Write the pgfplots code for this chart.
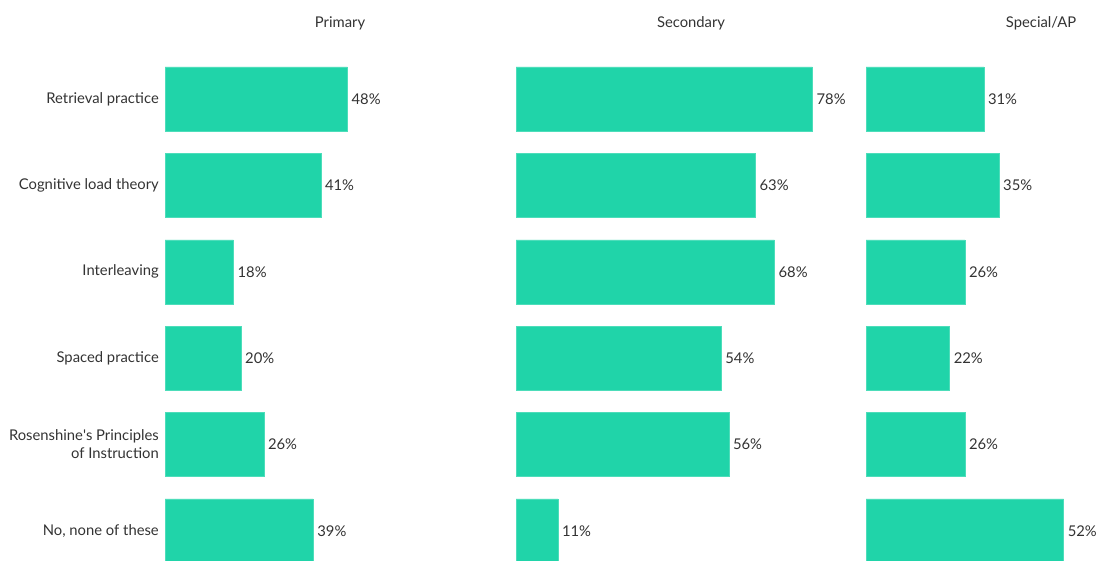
\documentclass[border=0pt]{standalone}
\usepackage{fontspec}
\setmainfont{Lato}
\usepackage{pgfplots}
\pgfplotsset{compat=1.18}
\definecolor{barc}{HTML}{20D4A9}
\definecolor{txt}{HTML}{333333}
\begin{document}
\begin{tikzpicture}[font=\fontsize{14.8pt}{18pt}\selectfont]
\useasboundingbox (0,0) rectangle (1098pt,561pt);
\clip (0,0) rectangle (1098pt,561pt);
\pgfplotsset{panel/.style={
  xbar, bar width=64pt, scale only axis, x=3.80pt, y=86.4pt,
  xmin=0, xmax=85, ymin=-0.5, ymax=5.5,
  anchor=north west,
  /pgf/number format/assume math mode=true,
  point meta=x,
  nodes near coords={\pgfmathprintnumber{\pgfplotspointmeta}\%},
  nodes near coords style={anchor=west, inner sep=0pt, xshift=4pt, text=txt},
  title style={at={(0.542,1)}, anchor=base, yshift=22pt, text=txt},
}}
% Primary
\begin{axis}[panel, at={(165pt,505.2pt)}, title={Primary},
  hide x axis, axis y line*=left, y axis line style={draw=none},
  major tick length=0pt, ytick={0,1,2,3,4,5},
  yticklabels={No{,} none of these, Rosenshine\textquotesingle s Principles\\of Instruction, Spaced practice, Interleaving, Cognitive load theory, Retrieval practice},
  yticklabel style={inner sep=0pt, xshift=-6pt, align=right, text=txt}]
\addplot[fill=barc, draw=barc!80!white] coordinates {(48,5) (41,4) (18,3) (20,2) (26,1) (39,0)};
\end{axis}
% Secondary
\begin{axis}[panel, at={(516pt,505.2pt)}, title={Secondary}, hide axis]
\addplot[fill=barc, draw=barc!80!white] coordinates {(78,5) (63,4) (68,3) (54,2) (56,1) (11,0)};
\end{axis}
% Special/AP
\begin{axis}[panel, at={(866pt,505.2pt)}, title={Special/AP}, hide axis]
\addplot[fill=barc, draw=barc!80!white] coordinates {(31,5) (35,4) (26,3) (22,2) (26,1) (52,0)};
\end{axis}
\end{tikzpicture}
\end{document}
